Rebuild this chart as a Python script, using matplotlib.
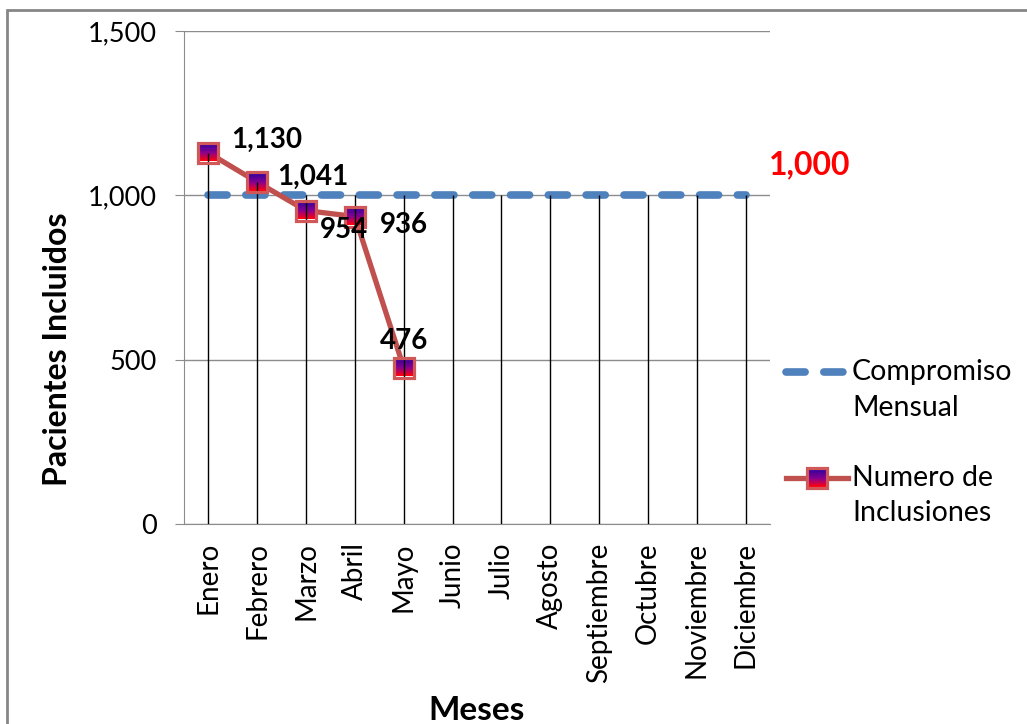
import matplotlib
matplotlib.use('Agg')
import matplotlib.pyplot as plt
import numpy as np
from matplotlib.patches import Rectangle
from matplotlib.lines import Line2D
from matplotlib.ticker import FuncFormatter
from matplotlib.offsetbox import OffsetImage, AnnotationBbox

plt.rcParams['font.family'] = ['Lato', 'DejaVu Sans']

# datos
meses = ['Enero', 'Febrero', 'Marzo', 'Abril', 'Mayo', 'Junio', 'Julio',
         'Agosto', 'Septiembre', 'Octubre', 'Noviembre', 'Diciembre']
compromiso = [1000] * 12
inclusiones = [1130, 1041, 954, 936, 476]
etiquetas = ['1,130', '1,041', '954', '936', '476']
# desplazamiento de etiquetas (puntos)
offs = [(42, 9), (40, 4), (27, -14), (35, -6), (0, 19)]

AZUL = '#4F81BD'
ROJO = '#C0504D'
mk = dict(marker='s', markersize=15, markeredgecolor='#D05858', markeredgewidth=2.3,
          markerfacecolor='none')

# degradado del marcador (azul-morado arriba, rojo abajo)
n = 16
t = np.linspace(0, 1, n)
c0 = np.array([0.20, 0.0, 0.62])
c1 = np.array([0.55, 0.0, 0.55])
c2 = np.array([1.0, 0.0, 0.05])
grad = np.array([c0 + (c1 - c0) * (s / 0.55) if s < 0.55 else c1 + (c2 - c1) * ((s - 0.55) / 0.45) for s in t])
img = np.repeat(grad[:, None, :], n, axis=1)


def caja(xy, xycoords, parent):
    ab = AnnotationBbox(OffsetImage(img, zoom=0.78), xy, xycoords=xycoords,
                        frameon=False, pad=0, zorder=4)
    parent.add_artist(ab)


fig = plt.figure(figsize=(10.27, 7.24), dpi=100)
ax = fig.add_axes([0.179, 0.276, 0.571, 0.681])

x = list(range(len(meses)))
xi = list(range(len(inclusiones)))

ax.plot(x, compromiso, color=AZUL, lw=5.5, dashes=(2.5, 2.45),
        dash_capstyle='round', zorder=3)
ax.plot(xi, inclusiones, color=ROJO, lw=3.8, zorder=3)
for i, v in zip(xi, inclusiones):
    caja((i, v), 'data', ax)

# lineas de caida
tops = [max(compromiso[i], inclusiones[i]) if i < len(inclusiones) else compromiso[i] for i in x]
ax.vlines(x, 0, tops, color='black', lw=1, zorder=5)
ax.plot(xi, inclusiones, lw=0, zorder=6, **mk)

for i, (v, tx, o) in enumerate(zip(inclusiones, etiquetas, offs)):
    ax.annotate(tx, (i, v), xytext=o, textcoords='offset points', ha='center', va='center',
                fontsize=20, fontweight='bold', color='black', zorder=7)

ax.annotate('1,000', (11.5, 1000), xytext=(-1, 22), textcoords='offset points',
            ha='left', va='center', fontsize=23, fontweight='bold', color='red',
            annotation_clip=False)

ax.set_xlim(-0.5, 11.5)
ax.set_ylim(0, 1500)
ax.set_yticks([0, 500, 1000, 1500])
ax.yaxis.set_major_formatter(FuncFormatter(lambda v, p: f'{int(v):,}'))
ax.grid(axis='y', color='#8C8C8C', lw=1)
ax.set_axisbelow(True)
ax.set_xticks(x)
ax.set_xticklabels(meses, rotation=90, fontsize=20)
ax.tick_params(axis='x', length=0, pad=13)
ax.tick_params(axis='y', length=6.5, color='#8C8C8C', labelsize=19.5, pad=13)
for s in ['top', 'right']:
    ax.spines[s].set_visible(False)
ax.spines['left'].set_color('#8C8C8C')
ax.spines['bottom'].set_color('#8C8C8C')

fig.text(0.056, 0.517, 'Pacientes Incluidos', rotation=90, fontsize=23, fontweight='bold',
         ha='center', va='center')
fig.text(0.464, 0.019, 'Meses', fontsize=24, fontweight='bold', ha='center', va='center')

# leyenda
W, H = 1027, 724
fig.add_artist(Line2D([786 / W, 848 / W], [1 - 372 / H] * 2, color=AZUL, lw=5.5,
                      dashes=(2.5, 2.45), dash_capstyle='round'))
fig.add_artist(Line2D([786 / W, 848 / W], [1 - 478 / H] * 2, color=ROJO, lw=3.8))
caja((817 / W, 1 - 478 / H), 'figure fraction', fig)
fig.add_artist(Line2D([817 / W], [1 - 478 / H], lw=0, zorder=6, **mk))
ley = [('Compromiso', 372), ('Mensual', 408), ('Numero de', 478), ('Inclusiones', 513)]
for tx, yy in ley:
    fig.text(852 / W, 1 - yy / H, tx, fontsize=20.5, ha='left', va='center')

fig.patches.append(Rectangle((0.007, -0.05), 1.1, 0.986 + 0.05, transform=fig.transFigure,
                             fill=False, edgecolor='#868686', lw=2))

fig.savefig('out.png', dpi=100)
